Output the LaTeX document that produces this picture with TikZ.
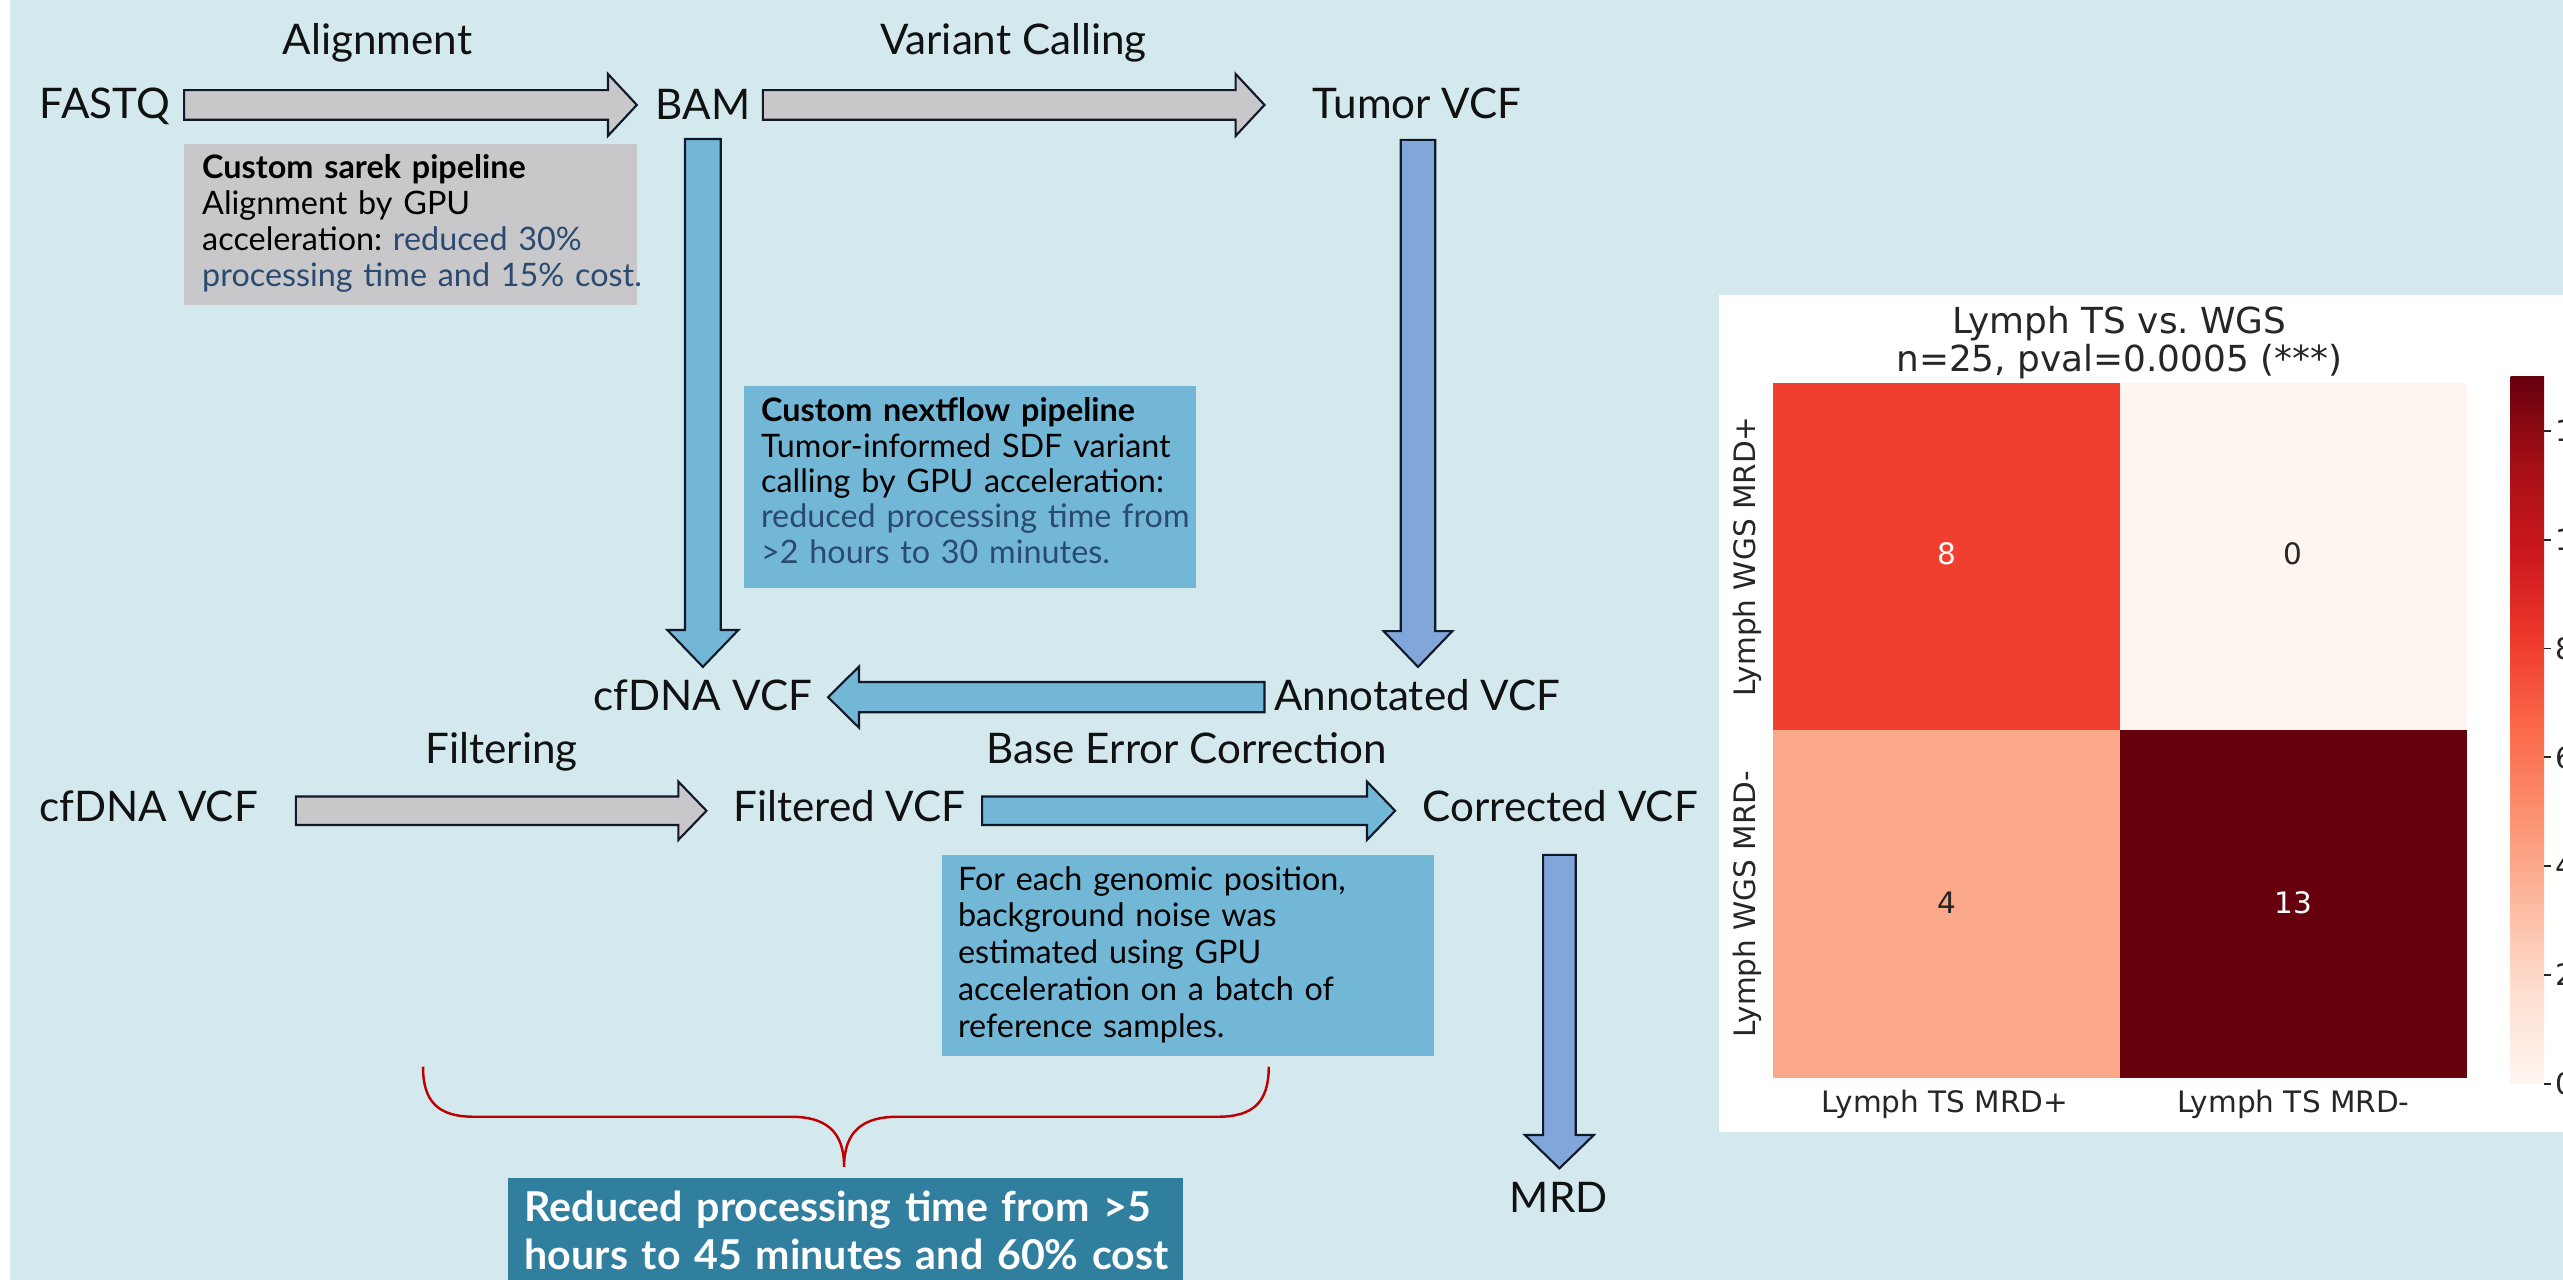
\documentclass[tikz,border=0pt]{standalone}
\usepackage{fontspec}
\setmainfont{Lato}
\newfontfamily\dvs{DejaVu Sans}
\usetikzlibrary{calc}
\frenchspacing
\definecolor{bgcol}{HTML}{D4E9EE}
\definecolor{grayfill}{HTML}{C8C8CA}
\definecolor{bluefill}{HTML}{72B8D6}
\definecolor{perifill}{HTML}{80A6DA}
\definecolor{darkbox}{HTML}{317F9F}
\definecolor{outl}{HTML}{10182A}
\definecolor{hltext}{HTML}{2B4A6F}
\definecolor{bracecol}{HTML}{C00000}
\definecolor{labelcol}{HTML}{111111}
\definecolor{hmtext}{HTML}{262626}
\definecolor{rc0}{HTML}{FFF5F0}
\definecolor{rc1}{HTML}{FEE0D2}
\definecolor{rc2}{HTML}{FCBBA1}
\definecolor{rc3}{HTML}{FC9272}
\definecolor{rc4}{HTML}{FB6A4A}
\definecolor{rc5}{HTML}{EF3B2C}
\definecolor{rc6}{HTML}{CB181D}
\definecolor{rc7}{HTML}{A50F15}
\definecolor{rc8}{HTML}{67000D}
\definecolor{cellA}{HTML}{F03F2E}
\definecolor{cellB}{HTML}{FFF5F0}
\definecolor{cellC}{HTML}{FCA88B}
\definecolor{cellD}{HTML}{67000D}
\pgfdeclareverticalshading{redsbar}{100bp}{color(0bp)=(rc0); color(25bp)=(rc0); color(31.25bp)=(rc1); color(37.5bp)=(rc2); color(43.75bp)=(rc3); color(50bp)=(rc4); color(56.25bp)=(rc5); color(62.5bp)=(rc6); color(68.75bp)=(rc7); color(75bp)=(rc8); color(100bp)=(rc8)}
\tikzset{
  barbody/.store in=\barbody, barhead/.store in=\barhead, barlen/.store in=\barlen,
  barbody=4.2pt, barhead=8.8pt, barlen=8.2pt,
  blockarrow/.style={draw=outl, line width=0.6pt, line join=miter, to path={
    let \p1=($(\tikztotarget)!\barlen!(\tikztostart)$) in
    ($(\tikztostart)!\barbody!90:(\tikztotarget)$) -- ($(\p1)!\barbody!90:(\tikztotarget)$)
    -- ($(\p1)!\barhead!90:(\tikztotarget)$) -- (\tikztotarget)
    -- ($(\p1)!\barhead!-90:(\tikztotarget)$) -- ($(\p1)!\barbody!-90:(\tikztotarget)$)
    -- ($(\tikztostart)!\barbody!-90:(\tikztotarget)$) -- cycle}},
  grayarrow/.style={blockarrow, fill=grayfill},
  bluearrow/.style={blockarrow, fill=bluefill},
  periarrow/.style={blockarrow, fill=perifill},
  lbl/.style={font=\fontsize{12}{14}\selectfont, inner sep=0pt, anchor=base, text=labelcol},
  boxtxt/.style={font=\fontsize{9.2}{10.3}\selectfont, inner sep=0pt, anchor=base west, text width=160pt, align=left, text=black},
  hm/.style={font=\dvs\fontsize{8.4}{10}\selectfont, inner sep=0pt, anchor=base, text=hmtext},
  hmtitle/.style={font=\dvs\fontsize{10.2}{12}\selectfont, inner sep=0pt, anchor=base, text=hmtext},
}
\begin{document}
\begin{tikzpicture}[x=0.016346cm,y=-0.016346cm]
\useasboundingbox (0,0) rectangle (1568,783);
\clip (0,0) rectangle (1568,783);
\fill[bgcol] (0,0) rectangle (1568,783);
\fill[white] (0,0) rectangle (6,783);

% ---------- labels ----------
\node[lbl] (lalign) at (231,33.6) {Alignment};
\node[lbl] (lvar) at (620,33.6) {Variant Calling};
\node[lbl] (fastq) at (64.2,72.6) {FASTQ};
\node[lbl] (bam) at (430,72.8) {BAM};
\node[lbl] (tumor) at (867,72.6) {Tumor VCF};
\node[lbl] (cfdnaA) at (430,434.4) {cfDNA VCF};
\node[lbl] (annot) at (867,434.4) {Annotated VCF};
\node[lbl] (lfilt) at (307,467) {Filtering};
\node[lbl] (lbec) at (726,467) {Base Error Correction};
\node[lbl] (cfdnaB) at (91,502.7) {cfDNA VCF};
\node[lbl] (filt) at (519.6,502.7) {Filtered VCF};
\node[lbl] (corr) at (954.5,502.7) {Corrected VCF};
\node[lbl] (mrd) at (953.6,741.9) {MRD};

% ---------- arrow end points ----------
\coordinate (alS) at (112.6,64.2);
\coordinate (alT) at (389.6,64.2);
\coordinate (vcS) at (466.7,64.2);
\coordinate (vcT) at (773.6,64.2);
\coordinate (bmS) at (430,85);
\coordinate (bmT) at (430,408);
\coordinate (tuS) at (867.5,85.6);
\coordinate (tuT) at (867.5,408);
\coordinate (anS) at (773.6,426.5);
\coordinate (anT) at (506.6,426.5);
\coordinate (fiS) at (181,496);
\coordinate (fiT) at (432.2,496);
\coordinate (beS) at (600.8,496);
\coordinate (beT) at (853.5,496);
\coordinate (mrS) at (954,523);
\coordinate (mrT) at (954,714.8);

\draw[grayarrow] (alS) to (alT);
\draw[grayarrow] (vcS) to (vcT);
\draw[bluearrow, barbody=5.1pt, barhead=10.1pt, barlen=10.5pt] (bmS) to (bmT);
\draw[periarrow, barbody=4.9pt, barhead=9.8pt, barlen=10.2pt] (tuS) to (tuT);
\draw[bluearrow, barbody=4.3pt, barhead=8.7pt, barlen=8.8pt] (anS) to (anT);
\draw[grayarrow, barbody=4.05pt, barhead=8.3pt, barlen=8pt] (fiS) to (fiT);
\draw[bluearrow, barbody=4.05pt, barhead=8.3pt, barlen=8pt] (beS) to (beT);
\draw[periarrow, barbody=4.65pt, barhead=9.8pt, barlen=9.5pt] (mrS) to (mrT);

% ---------- info boxes ----------
\fill[grayfill] (112.6,88) rectangle (389.6,186.6);
\node[boxtxt] (sarek) at (123.3,109) {\textbf{Custom sarek pipeline}\\Alignment by GPU\\acceleration: \textcolor{hltext}{reduced 30\%}\\\textcolor{hltext}{processing time and 15\% cost.}};

\fill[bluefill] (455,236) rectangle (731.7,359.5);
\node[boxtxt, font=\fontsize{9.2}{10.05}\selectfont] (nextflow) at (465.2,258) {\textbf{Custom nextflow pipeline}\\Tumor-informed SDF variant\\calling by GPU acceleration:\\\textcolor{hltext}{reduced processing time from}\\\textcolor{hltext}{>2 hours to 30 minutes.}};

\fill[bluefill] (576.2,523) rectangle (877.2,646);
\node[boxtxt, font=\fontsize{9.2}{10.5}\selectfont] (noise) at (585.7,544.5) {For each genomic position,\\background noise was\\estimated using GPU\\acceleration on a batch of\\reference samples.};

% ---------- brace and summary ----------
\draw[bracecol, line width=0.7pt] (258.8,652.6) .. controls (258.8,674) and (268,683.2) .. (290,683.2)
  -- (484,683.2) .. controls (505,683.2) and (516.4,692) .. (516.4,713.8)
  .. controls (516.4,692) and (528,683.2) .. (549,683.2)
  -- (745,683.2) .. controls (767,683.2) and (776.2,674) .. (776.2,652.6);
\fill[darkbox] (310.5,720.9) rectangle (724,800);
\node[anchor=base west, inner sep=0pt, text width=260pt, align=left, text=white, font=\bfseries\fontsize{11.7}{13.5}\selectfont] (summary) at (320.6,747.4) {Reduced processing time from >5\\hours to 45 minutes and 60\% cost};

% ---------- heatmap ----------
\fill[white] (1051.6,180.5) rectangle (1600,692.3);
\node[hmtitle] (ttl1) at (1296.5,203.9) {Lymph TS vs. WGS};
\node[hmtitle] (ttl2) at (1296.5,227.4) {n=25, pval=0.0005 (***)};
\fill[cellA] (1084.7,234.3) rectangle (1297,446.6);
\fill[cellB] (1297,234.3) rectangle (1509,446.6);
\fill[cellC] (1084.7,446.6) rectangle (1297,659.3);
\fill[cellD] (1297,446.6) rectangle (1509,659.3);
\node[hm, text=white] (v8) at (1191,345.6) {8};
\node[hm] (v0) at (1403,345.6) {0};
\node[hm] (v4) at (1191,558.7) {4};
\node[hm, text=white] (v13) at (1403,558.7) {13};
\node[hm, rotate=90] (ylA) at (1073.7,340.5) {Lymph WGS MRD+};
\node[hm, rotate=90] (ylB) at (1073.7,553) {Lymph WGS MRD-};
\node[hm] (xlA) at (1190,680.7) {Lymph TS MRD+};
\node[hm] (xlB) at (1403,680.7) {Lymph TS MRD-};
\shade[shading=redsbar] (1536,230.4) rectangle (1556.5,663);
\foreach \v/\nm in {0/c0,2/c2,4/c4,6/c6,8/c8,10/c10,12/c12}{
  \draw[hmtext, line width=0.5pt] (1556.5,663-33.28*\v) -- (1560.5,663-33.28*\v);
  \node[hm, anchor=west] (tick\nm) at (1563,663-33.28*\v) {\v};
}
\end{tikzpicture}
\end{document}
